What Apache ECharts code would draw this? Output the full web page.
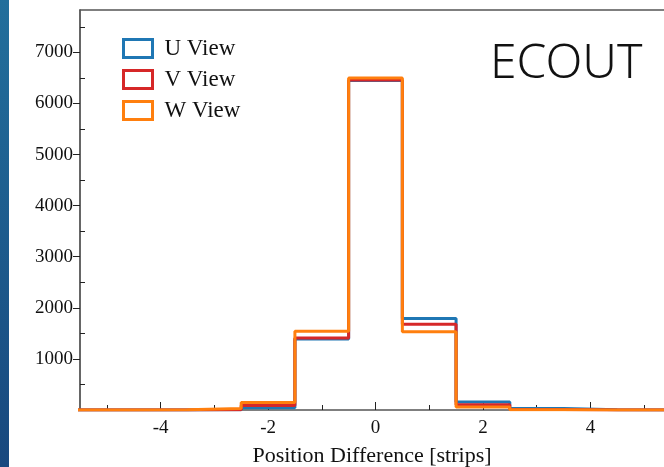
<!DOCTYPE html>
<html>
<head>
<meta charset="utf-8">
<script src="https://cdn.jsdelivr.net/npm/echarts@6/dist/echarts.min.js"></script>
<style>
  html, body { margin: 0; padding: 0; background: #fff; }
  #chart { width: 664px; height: 467px; }
</style>
</head>
<body>
<div id="chart"></div>
<script>
// histogram bins (centres, width 1 strip)
const binCenters = [-6, -5, -4, -3, -2, -1, 0, 1, 2, 3, 4, 5, 6];
const uView = [0, 0, 2, 5, 45, 1390, 6450, 1790, 155, 28, 3, 0, 0];
const vView = [0, 0, 2, 5, 90, 1410, 6460, 1680, 104, 8, 2, 0, 0];
const wView = [0, 0, 3, 30, 146, 1540, 6500, 1530, 58, 5, 2, 0, 0];

const xLabels = [-4, -2, 0, 2, 4];
const xMinor = [-5, -3, -1, 1, 3, 5];
const yLabels = [1000, 2000, 3000, 4000, 5000, 6000, 7000];
const yMinor = [500, 1500, 2500, 3500, 4500, 5500, 6500, 7500];

const colors = { U: '#1f77b4', V: '#d62728', W: '#ff7f0e' };

// turn bin values into step outline points
function steps(values) {
  const pts = [];
  binCenters.forEach((c, i) => {
    pts.push([c - 0.5, values[i]]);
    pts.push([c + 0.5, values[i]]);
  });
  return pts;
}

const serif = '"Liberation Serif", "DejaVu Serif", serif';
const X_MIN = -5.5;
const X_MAX = 5.37;
const Y_MAX = 7830;

function histSeries(name, values, color) {
  return {
    name: name,
    type: 'line',
    data: steps(values),
    symbol: 'none',
    lineStyle: { color: color, width: 3 },
    itemStyle: { color: color },
    clip: true,
    animation: false,
  };
}

const chart = echarts.init(document.getElementById('chart'));

const option = {
  backgroundColor: '#fff',
  animation: false,
  graphic: [
    {
      type: 'rect',
      left: 0,
      top: 0,
      shape: { width: 9, height: 467 },
      style: {
        fill: new echarts.graphic.LinearGradient(0, 0, 0, 1, [
          { offset: 0, color: '#226f9c' },
          { offset: 1, color: '#18487e' },
        ]),
      },
      z: 10,
    },
  ],
  title: {
    text: 'ECOUT',
    left: 490,
    top: 40,
    padding: 0,
    textStyle: {
      fontFamily: '"Noto Sans", sans-serif',
      fontSize: 48,
      fontWeight: 300,
      color: '#111',
    },
  },
  legend: {
    orient: 'vertical',
    left: 122,
    top: 37,
    padding: 0,
    itemWidth: 29,
    itemHeight: 18,
    itemGap: 8,
    textStyle: { fontFamily: serif, fontSize: 23, color: '#111', padding: [0, 0, 0, 7] },
    data: [
      { name: 'U View', icon: 'rect', itemStyle: { color: 'transparent', borderColor: colors.U, borderWidth: 3 } },
      { name: 'V View', icon: 'rect', itemStyle: { color: 'transparent', borderColor: colors.V, borderWidth: 3 } },
      { name: 'W View', icon: 'rect', itemStyle: { color: 'transparent', borderColor: colors.W, borderWidth: 3 } },
    ],
  },
  grid: {
    left: 80,
    right: 0,
    top: 10,
    bottom: 57,
    containLabel: false,
    outerBoundsMode: 'none',
  },
  xAxis: [
    {
      type: 'value',
      min: X_MIN,
      max: X_MAX,
      name: 'Position Difference [strips]',
      nameLocation: 'middle',
      nameGap: 35,
      nameTextStyle: { fontFamily: serif, fontSize: 22, color: '#111' },
      axisLine: { show: true, onZero: false, lineStyle: { color: '#555', width: 1.5 } },
      axisTick: { show: true, inside: true, length: 8, lineStyle: { color: '#222' }, customValues: xLabels },
      axisLabel: { fontFamily: serif, fontSize: 19, color: '#111', margin: 9, customValues: xLabels },
      splitLine: { show: false },
    },
    {
      type: 'value',
      position: 'top',
      min: X_MIN,
      max: X_MAX,
      axisLine: { show: true, onZero: false, lineStyle: { color: '#555', width: 1.5 } },
      axisTick: { show: false },
      axisLabel: { show: false },
      splitLine: { show: false },
    },
    {
      type: 'value',
      position: 'bottom',
      min: X_MIN,
      max: X_MAX,
      axisLine: { show: false, onZero: false },
      axisTick: { show: true, inside: true, length: 5, lineStyle: { color: '#222' }, customValues: xMinor },
      axisLabel: { show: false },
      splitLine: { show: false },
    },
  ],
  yAxis: [
    {
      type: 'value',
      min: 0,
      max: Y_MAX,
      axisLine: { show: true, onZero: false, lineStyle: { color: '#333', width: 1.5 } },
      axisTick: { show: true, inside: false, length: 7, lineStyle: { color: '#222' }, customValues: yLabels },
      axisLabel: {
        fontFamily: serif, fontSize: 19, color: '#111', margin: 7,
        customValues: yLabels,
        formatter: (v) => String(v),
      },
      splitLine: { show: false },
    },
    {
      type: 'value',
      position: 'left',
      min: 0,
      max: Y_MAX,
      axisLine: { show: false, onZero: false },
      axisTick: { show: true, inside: true, length: 5, lineStyle: { color: '#222' }, customValues: yMinor },
      axisLabel: { show: false },
      splitLine: { show: false },
    },
  ],
  series: [
    histSeries('U View', uView, colors.U),
    histSeries('V View', vView, colors.V),
    histSeries('W View', wView, colors.W),
  ],
};

chart.setOption(option);
</script>
</body>
</html>
